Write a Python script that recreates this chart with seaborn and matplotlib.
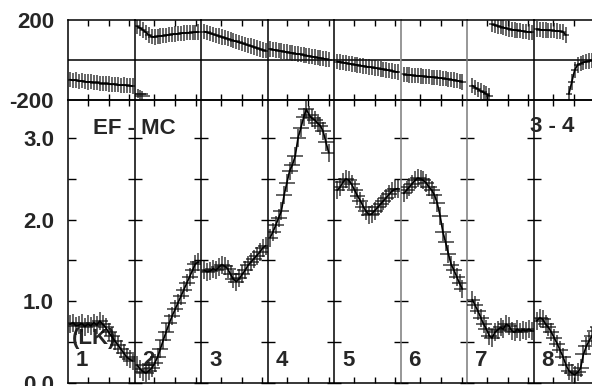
import numpy as np
import pandas as pd
import matplotlib
matplotlib.use('Agg')
import matplotlib.pyplot as plt
import seaborn as sns

# baseline segments (8 scans), time within each scan runs 0..1
seg_names = ['1', '2', '3', '4', '5', '6', '7', '8']
t_start = [0.03, 0.04, 0.05, 0.04, 0.05, 0.05, 0.08, 0.05]
t_end = [0.97, 0.96, 0.97, 0.92, 0.96, 0.93, 0.97, 0.97]

amp_1 = [0.72, 0.74, 0.70, 0.71, 0.73, 0.69, 0.72, 0.70, 0.74, 0.71, 0.76,
         0.72, 0.68, 0.62, 0.57, 0.52, 0.47, 0.42, 0.37, 0.32, 0.29, 0.27]
amp_2 = [0.22, 0.17, 0.14, 0.12, 0.15, 0.18, 0.24, 0.32, 0.42, 0.53, 0.63,
         0.73, 0.82, 0.90, 0.98, 1.06, 1.14, 1.22, 1.30, 1.38, 1.46, 1.48]
amp_3 = [1.38, 1.36, 1.37, 1.40, 1.38, 1.42, 1.45, 1.43, 1.40, 1.33, 1.27,
         1.24, 1.28, 1.33, 1.38, 1.44, 1.48, 1.52, 1.56, 1.60, 1.65, 1.68]
amp_4 = [1.78, 1.85, 1.93, 2.02, 2.10, 2.30, 2.45, 2.60, 2.67, 2.78, 3.00,
         3.12, 3.25, 3.35, 3.28, 3.24, 3.22, 3.18, 3.15, 3.08, 2.95, 2.82]
amp_5 = [2.36, 2.40, 2.46, 2.50, 2.48, 2.43, 2.36, 2.29, 2.23, 2.16, 2.10,
         2.06, 2.07, 2.11, 2.15, 2.19, 2.23, 2.27, 2.31, 2.35, 2.37, 2.38]
amp_6 = [2.32, 2.36, 2.40, 2.44, 2.48, 2.51, 2.50, 2.48, 2.45, 2.40, 2.36,
         2.30, 2.20, 2.05, 1.85, 1.72, 1.58, 1.45, 1.38, 1.30, 1.22, 1.15]
amp_7 = [1.02, 0.95, 0.88, 0.80, 0.72, 0.66, 0.58, 0.55, 0.62, 0.65, 0.68,
         0.66, 0.72, 0.70, 0.64, 0.62, 0.66, 0.63, 0.65, 0.64, 0.66, 0.64]
amp_8 = [0.76, 0.80, 0.78, 0.72, 0.68, 0.62, 0.55, 0.48, 0.40, 0.32, 0.22,
         0.15, 0.12, 0.10, 0.13, 0.18, 0.35, 0.45, 0.52, 0.58, 0.64, 0.68]

phase_1 = [-98, -102, -100, -106, -104, -108, -110, -109, -113, -112, -116,
           -118, -117, -120, -122, -121, -124, -126, -125, -127, -128, -130]
phase_2 = [168, 160, 150, 138, 125, 117, 115, 118, 120, 122, 124,
           126, 128, 130, 131, 133, 135, 136, 137, 138, 139, 140]
phase_3 = [142, 138, 133, 129, 124, 120, 115, 111, 106, 102, 97,
           93, 88, 84, 79, 74, 70, 65, 60, 55, 50, 46]
phase_4 = [55, 52, 50, 47, 45, 42, 40, 37, 35, 32, 30,
           28, 25, 22, 20, 17, 15, 12, 10, 7, 5, 2]
phase_5 = [-8, -10, -13, -15, -18, -20, -23, -25, -28, -30, -33,
           -35, -37, -40, -42, -45, -47, -50, -52, -55, -58, -60]
phase_6 = [-72, -74, -75, -77, -78, -79, -80, -82, -83, -84, -86,
           -87, -88, -90, -92, -94, -96, -98, -100, -103, -106, -110]
phase_7 = [-128, -138, -146, -155, -162, -170, -178, 178, 175, 170, 166,
           162, 158, 155, 152, 150, 148, 146, 144, 142, 140, 138]
phase_8 = [155, 152, 150, 150, 148, 148, 146, 145, 143, 140, 125,
           -170, -110, -50, -25, -18, -12, -8, -5, -2, 0, 2]

# wrapped points at the start of scan 2
extra_seg = [2, 2, 2]
extra_t = [0.05, 0.09, 0.12]
extra_phase = [-168, -172, -178]

amps = [amp_1, amp_2, amp_3, amp_4, amp_5, amp_6, amp_7, amp_8]
phases = [phase_1, phase_2, phase_3, phase_4, phase_5, phase_6, phase_7, phase_8]

rows = []
for k in range(8):
    t = np.linspace(t_start[k], t_end[k], len(amps[k]))
    piece = np.concatenate([[0], np.cumsum(np.abs(np.diff(phases[k])) > 180)])
    for i in range(len(t)):
        rows.append({'seg': k + 1, 't': t[i], 'amp': amps[k][i],
                     'phase': phases[k][i], 'piece': piece[i]})
df = pd.DataFrame(rows)
extra = pd.DataFrame({'seg': extra_seg, 't': extra_t, 'phase': extra_phase})

sns.set_style('white')
plt.rcParams['font.family'] = ['Liberation Sans', 'DejaVu Sans']
plt.rcParams['font.weight'] = 'bold'
plt.rcParams['axes.unicode_minus'] = False
fs = 16
cross = dict(fmt='none', ecolor='#111111', alpha=0.7, elinewidth=1.3)

W, H = 592, 386
fig = plt.figure(figsize=(W / 100, H / 100), dpi=100)

x0, dx = 68, 66.5
amp_top = 283 / 81.7
xt = [0.30, 0.61, 0.92]

for k in range(8):
    left = (x0 + k * dx) / W
    ax_p = fig.add_axes([left, (H - 100) / H, dx / W, 80 / H])
    ax_a = fig.add_axes([left, (H - 383) / H, dx / W, 283 / H])
    spine_col = '#7a7a7a' if k in (5, 6) else 'black'

    sub = df[df.seg == k + 1]
    # phase panel
    ax_p.axhline(0, color='black', lw=1.1, zorder=1)
    ax_p.errorbar(sub.t, sub.phase, xerr=0.05, yerr=38, zorder=2, **cross)
    ex = extra[extra.seg == k + 1]
    if len(ex):
        ax_p.errorbar(ex.t, ex.phase, xerr=0.12, yerr=22, zorder=2, **cross)
    sns.lineplot(data=sub, x='t', y='phase', units='piece', estimator=None,
                 sort=False, color='black', lw=1.2, ax=ax_p, zorder=3)
    ax_p.set_xlim(0, 1)
    ax_p.set_ylim(-200, 200)

    # amplitude panel
    ax_a.errorbar(sub.t, sub.amp, xerr=0.12, yerr=0.11, zorder=3, **cross)
    sns.lineplot(data=sub, x='t', y='amp', sort=False, color='black', lw=1.2,
                 ax=ax_a, zorder=4)
    ax_a.set_xlim(0, 1)
    ax_a.set_ylim(0, amp_top)
    ax_a.text(0.12, 0.27, seg_names[k], transform=ax_a.get_yaxis_transform(),
              fontsize=fs, fontweight='bold', va='center', ha='left', zorder=2)

    for ax in (ax_p, ax_a):
        ax.set_xlabel('')
        ax.set_ylabel('')
        ax.spines['right'].set_visible(False)
        for s in ('top', 'bottom'):
            ax.spines[s].set_color('black')
            ax.spines[s].set_linewidth(1.1)
        ax.spines['left'].set_color(spine_col)
        ax.spines['left'].set_linewidth(1.1)
        ax.set_xticks(xt)
        ax.tick_params(axis='x', direction='in', top=True, bottom=True,
                       length=4, width=1, labelbottom=False, color='black')
        ax.patch.set_alpha(0)

    ax_p.set_yticks([-200, 200])
    ax_p.tick_params(axis='y', left=True, length=0, pad=10, labelsize=fs,
                     labelleft=(k == 0))
    ax_a.set_yticks(np.arange(0, 3.01, 0.5))
    ax_a.set_yticklabels(['0.0', '', '1.0', '', '2.0', '', '3.0'])
    ax_a.tick_params(axis='y', left=True, right=False,
                     direction='in' if k == 0 else 'inout',
                     length=6 if k == 0 else 10, width=1, color='black',
                     pad=10, labelsize=fs, labelleft=(k == 0))
    for lab in ax_p.get_yticklabels() + ax_a.get_yticklabels():
        lab.set_fontweight('bold')
    if k == 0:
        ax_a.text(0.06, 0.55, '(LK)', transform=ax_a.get_yaxis_transform(),
                  fontsize=fs, fontweight='bold', va='center', ha='left',
                  zorder=2)

fig.text(93 / W, 1 - 128 / H, 'EF - MC', fontsize=fs, fontweight='bold',
         va='center', ha='left', zorder=10)
fig.text(530 / W, 1 - 126 / H, '3 - 4', fontsize=fs, fontweight='bold',
         va='center', ha='left', zorder=10)

fig.savefig('out.png', dpi=100)
